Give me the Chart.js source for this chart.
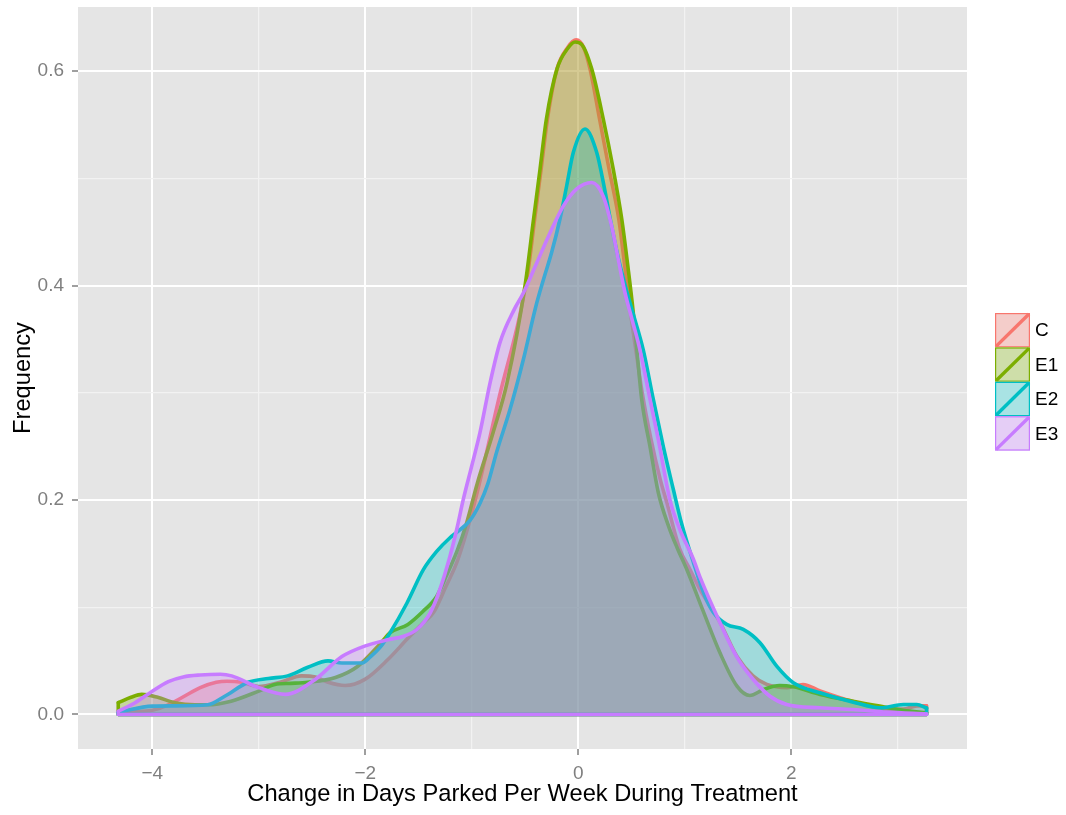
<!DOCTYPE html>
<html>
<head>
<meta charset="utf-8">
<script src="https://cdn.jsdelivr.net/npm/chart.js@4/dist/chart.umd.min.js"></script>
<style>
html,body{margin:0;padding:0;background:#ffffff;}
#wrap{position:relative;width:1066px;height:815px;}
canvas{display:block;}
</style>
</head>
<body>
<div id="wrap"><canvas id="c" width="1066" height="815"></canvas></div>
<script>
// ---- data ----
const groups = ['C', 'E1', 'E2', 'E3'];
const lineColors = ['#F8766D', '#7CAE00', '#00BFC4', '#C77CFF'];
const fillColors = ['rgba(248,118,109,0.3)', 'rgba(124,174,0,0.3)', 'rgba(0,191,196,0.3)', 'rgba(199,124,255,0.3)'];

const xC = [-4.32,-4.15,-4.0,-3.85,-3.7,-3.55,-3.4,-3.3,-3.16,-3.0,-2.8,-2.6,-2.47,-2.35,-2.19,-2.0,-1.79,-1.6,-1.45,-1.36,-1.24,-1.14,-1.05,-0.95,-0.89,-0.74,-0.55,-0.47,-0.41,-0.35,-0.29,-0.2,-0.1,-0.02,0.05,0.11,0.2,0.29,0.38,0.44,0.49,0.54,0.6,0.68,0.77,0.83,0.95,1.05,1.14,1.33,1.49,1.64,1.77,1.96,2.11,2.27,2.58,2.9,3.05,3.18,3.27];
const yC = [0.003,0.003,0.004,0.009,0.017,0.025,0.030,0.031,0.030,0.026,0.030,0.036,0.035,0.030,0.027,0.033,0.051,0.071,0.086,0.095,0.12,0.142,0.17,0.207,0.232,0.297,0.372,0.415,0.462,0.508,0.555,0.602,0.622,0.629,0.622,0.602,0.555,0.508,0.462,0.415,0.375,0.34,0.30,0.258,0.219,0.198,0.155,0.135,0.117,0.086,0.054,0.036,0.028,0.025,0.028,0.022,0.012,0.005,0.005,0.008,0.008];

const xE1 = [-4.32,-4.2,-4.1,-3.95,-3.79,-3.6,-3.48,-3.26,-3.0,-2.85,-2.7,-2.54,-2.28,-2.07,-1.85,-1.77,-1.6,-1.46,-1.33,-1.24,-1.14,-1.05,-0.95,-0.8,-0.67,-0.5,-0.42,-0.36,-0.3,-0.2,-0.1,-0.03,0.03,0.126,0.235,0.329,0.408,0.469,0.516,0.55,0.595,0.673,0.751,0.85,0.93,1.02,1.17,1.33,1.49,1.61,1.74,1.89,2.02,2.27,2.58,2.83,3.05,3.27];
const yE1 = [0.011,0.016,0.0187,0.016,0.011,0.009,0.009,0.0124,0.0218,0.028,0.029,0.030,0.0345,0.045,0.067,0.076,0.084,0.096,0.11,0.129,0.152,0.178,0.215,0.263,0.309,0.40,0.462,0.508,0.555,0.602,0.621,0.627,0.625,0.602,0.555,0.508,0.462,0.415,0.375,0.340,0.294,0.25,0.207,0.175,0.155,0.135,0.097,0.0575,0.0264,0.0177,0.0233,0.027,0.0258,0.0187,0.0124,0.0078,0.004,0.0016];

const xE2 = [-4.32,-4.0,-3.79,-3.48,-3.32,-3.1,-2.91,-2.73,-2.54,-2.35,-2.22,-2.03,-1.95,-1.85,-1.77,-1.61,-1.455,-1.33,-1.205,-1.127,-1.017,-0.923,-0.85,-0.766,-0.641,-0.516,-0.40,-0.329,-0.25,-0.172,-0.109,-0.047,0.063,0.173,0.241,0.30,0.37,0.44,0.52,0.61,0.704,0.798,0.892,0.97,1.08,1.19,1.27,1.393,1.549,1.706,1.863,2.019,2.27,2.582,2.833,3.052,3.178,3.271];
const yE2 = [0.002,0.0078,0.008,0.009,0.017,0.030,0.0336,0.036,0.044,0.050,0.048,0.048,0.054,0.064,0.0757,0.1037,0.135,0.152,0.1648,0.171,0.181,0.197,0.215,0.245,0.2845,0.331,0.38,0.405,0.431,0.462,0.493,0.524,0.546,0.524,0.493,0.462,0.428,0.40,0.372,0.34,0.294,0.25,0.21,0.178,0.142,0.11,0.095,0.084,0.0793,0.0669,0.045,0.0296,0.0202,0.0115,0.0062,0.0093,0.0093,0.006];

const xE3 = [-4.32,-4.17,-4.01,-3.85,-3.71,-3.55,-3.36,-3.255,-3.0,-2.75,-2.47,-2.22,-2.0,-1.8,-1.64,-1.52,-1.39,-1.30,-1.205,-1.142,-1.08,-1.0,-0.923,-0.829,-0.735,-0.60,-0.516,-0.391,-0.266,-0.141,-0.015,0.126,0.235,0.314,0.376,0.439,0.50,0.579,0.673,0.751,0.861,0.955,1.08,1.143,1.331,1.487,1.643,1.8,1.957,2.27,2.582,2.896,3.271];
const yE3 = [0.003,0.0104,0.021,0.0306,0.035,0.0368,0.0375,0.036,0.025,0.0187,0.0327,0.054,0.064,0.0695,0.073,0.079,0.0948,0.1166,0.1476,0.1725,0.2005,0.232,0.263,0.309,0.347,0.378,0.393,0.421,0.449,0.474,0.490,0.496,0.483,0.455,0.424,0.393,0.37,0.34,0.294,0.2565,0.2,0.172,0.145,0.128,0.0855,0.054,0.0326,0.017,0.0093,0.0062,0.0047,0.0022,0.0005];

const xMajorTicks = [-4, -2, 0, 2];
const xMinorTicks = [-3, -1, 1, 3];
const yMajorTicks = [0, 0.2, 0.4, 0.6];
const yMinorTicks = [0.1, 0.3, 0.5];
const xTitle = 'Change in Days Parked Per Week During Treatment';
const yTitle = 'Frequency';

// ---- chart ----
const FONT = "'Liberation Sans', Arial, Helvetica, sans-serif";
Chart.defaults.font.family = FONT;

const seriesX = [xC, xE1, xE2, xE3];
const seriesY = [yC, yE1, yE2, yE3];

const datasets = groups.map((g, i) => ({
  label: g,
  data: seriesX[i].map((x, k) => ({x: x, y: seriesY[i][k]})),
  borderColor: lineColors[i],
  backgroundColor: fillColors[i],
  borderWidth: 3.6,
  pointRadius: 0,
  pointHoverRadius: 0,
  fill: 'origin',
  cubicInterpolationMode: 'monotone',
  borderJoinStyle: 'round',
  borderCapStyle: 'round',
  order: groups.length - i
}));

const panelBg = {
  id: 'panelBg',
  beforeDraw(chart) {
    const a = chart.chartArea, ctx = chart.ctx;
    ctx.save();
    ctx.fillStyle = '#E5E5E5';
    ctx.fillRect(a.left, a.top, a.right - a.left, a.bottom - a.top);
    ctx.restore();
  }
};

const baseline = {
  id: 'baseline',
  afterDatasetDraw(chart, args) {
    const meta = args.meta, pts = meta.data;
    if (!pts.length) return;
    const ds = chart.data.datasets[args.index];
    const y0 = chart.scales.y.getPixelForValue(0);
    const a = chart.chartArea, ctx = chart.ctx;
    const f = pts[0], l = pts[pts.length - 1];
    ctx.save();
    ctx.beginPath();
    ctx.rect(a.left, a.top, a.right - a.left, a.bottom - a.top);
    ctx.clip();
    ctx.beginPath();
    ctx.moveTo(l.x, l.y);
    ctx.lineTo(l.x, y0);
    ctx.lineTo(f.x, y0);
    ctx.lineTo(f.x, f.y);
    ctx.strokeStyle = ds.borderColor;
    ctx.lineWidth = ds.borderWidth;
    ctx.lineJoin = 'round';
    ctx.lineCap = 'round';
    ctx.stroke();
    ctx.restore();
  }
};

const keyLegend = {
  id: 'keyLegend',
  afterDraw(chart) {
    const ctx = chart.ctx;
    const kx = 995, ky = 313, kw = 35, kh = 34.4;
    ctx.save();
    groups.forEach((g, i) => {
      const y = ky + i * kh;
      ctx.fillStyle = '#F2F2F2';
      ctx.fillRect(kx, y, kw, kh);
      ctx.fillStyle = fillColors[i];
      ctx.fillRect(kx, y, kw, kh);
      ctx.strokeStyle = lineColors[i];
      ctx.lineWidth = 1.2;
      ctx.strokeRect(kx + 0.6, y + 0.6, kw - 1.2, kh - 1.2);
      ctx.beginPath();
      ctx.moveTo(kx + 1, y + kh - 1);
      ctx.lineTo(kx + kw - 1, y + 1);
      ctx.lineWidth = 3.4;
      ctx.lineCap = 'butt';
      ctx.stroke();
      ctx.fillStyle = '#000000';
      ctx.font = '19px ' + FONT;
      ctx.textAlign = 'left';
      ctx.textBaseline = 'middle';
      ctx.fillText(g, 1035, y + kh / 2 + 1);
    });
    ctx.restore();
  }
};

function minus(v) {
  return v < 0 ? '\u2212' + Math.abs(v) : String(v);
}

new Chart(document.getElementById('c'), {
  type: 'line',
  data: {datasets: datasets},
  plugins: [panelBg, baseline, keyLegend],
  options: {
    responsive: false,
    devicePixelRatio: 1,
    animation: false,
    events: [],
    layout: {padding: {top: 7, right: 99, left: 0, bottom: 0}},
    plugins: {
      legend: {display: false},
      tooltip: {enabled: false},
      filler: {propagate: false}
    },
    scales: {
      x: {
        type: 'linear',
        min: -4.698,
        max: 3.650,
        afterBuildTicks(scale) {
          scale.ticks = xMajorTicks.concat(xMinorTicks).sort((a, b) => a - b).map(v => ({value: v}));
        },
        afterFit(scale) {
          scale.height = 66;
          scale.paddingLeft = 0;
          scale.paddingRight = 0;
        },
        border: {display: false},
        grid: {
          color: c => xMajorTicks.includes(c.tick.value) ? '#FFFFFF' : '#F2F2F2',
          lineWidth: c => xMajorTicks.includes(c.tick.value) ? 2 : 1.2,
          tickColor: c => xMajorTicks.includes(c.tick.value) ? '#7F7F7F' : 'rgba(0,0,0,0)',
          tickWidth: 1.5,
          tickLength: 6,
          drawTicks: true
        },
        ticks: {
          autoSkip: false,
          maxRotation: 0,
          padding: 7,
          color: '#7F7F7F',
          font: {size: 19, family: FONT},
          callback: v => xMajorTicks.includes(v) ? minus(v) : ''
        },
        title: {
          display: true,
          text: xTitle,
          color: '#000000',
          font: {size: 23.7, family: FONT},
          padding: {top: 0, bottom: 6}
        }
      },
      y: {
        type: 'linear',
        min: -0.0322,
        max: 0.6597,
        afterBuildTicks(scale) {
          scale.ticks = yMajorTicks.concat(yMinorTicks).sort((a, b) => a - b).map(v => ({value: v}));
        },
        afterFit(scale) {
          scale.width = 78;
          scale.paddingTop = 0;
          scale.paddingBottom = 0;
        },
        border: {display: false},
        grid: {
          color: c => yMajorTicks.includes(c.tick.value) ? '#FFFFFF' : '#F2F2F2',
          lineWidth: c => yMajorTicks.includes(c.tick.value) ? 2 : 1.2,
          tickColor: c => yMajorTicks.includes(c.tick.value) ? '#7F7F7F' : 'rgba(0,0,0,0)',
          tickWidth: 1.5,
          tickLength: 6,
          drawTicks: true
        },
        ticks: {
          autoSkip: false,
          padding: 8,
          color: '#7F7F7F',
          font: {size: 19, family: FONT},
          callback: v => yMajorTicks.includes(v) ? v.toFixed(1) : ''
        },
        title: {
          display: true,
          text: yTitle,
          color: '#000000',
          font: {size: 23.7, family: FONT},
          padding: {top: 9, bottom: 0}
        }
      }
    }
  }
});
</script>
</body>
</html>
